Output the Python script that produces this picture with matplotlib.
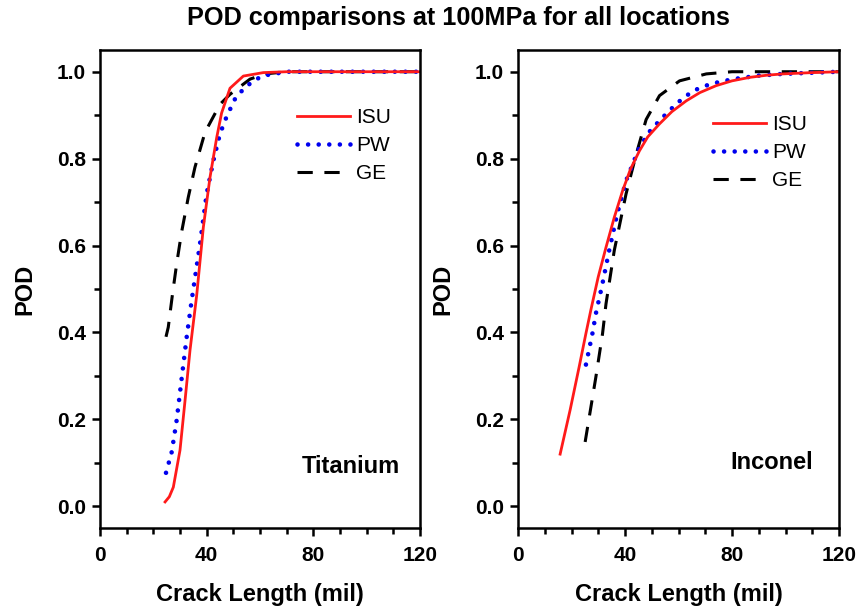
import matplotlib
matplotlib.use("Agg")
import matplotlib.pyplot as plt
from matplotlib.ticker import MultipleLocator

plt.rcParams["font.family"] = ["Liberation Sans", "DejaVu Sans"]

# Titanium curves (crack length in mil, POD)
ti_isu_x = [24.4, 26.0, 27.5, 30.0, 31.9, 33.75, 36.25, 38.75, 41.25, 43.75, 45.6, 48.75, 53.75, 61.25, 70, 90, 120]
ti_isu_y = [0.010, 0.022, 0.044, 0.129, 0.244, 0.359, 0.485, 0.642, 0.757, 0.848, 0.905, 0.962, 0.990, 0.998, 1.0, 1.0, 1.0]
ti_pw_x = [24.75, 26.9, 28.75, 30.6, 32.5, 34.4, 37.5, 40.0, 42.5, 45.0, 47.5, 50.6, 53.75, 57.5, 61.25, 70, 90, 120]
ti_pw_y = [0.077, 0.125, 0.198, 0.293, 0.389, 0.475, 0.604, 0.719, 0.795, 0.857, 0.897, 0.937, 0.960, 0.979, 0.991, 1.0, 1.0, 1.0]
ti_ge_x = [24.75, 25.6, 27.2, 28.75, 30.6, 33.1, 35.6, 39.4, 45.0, 48.75, 56.25, 61.9, 70, 90, 120]
ti_ge_y = [0.39, 0.412, 0.489, 0.558, 0.631, 0.711, 0.780, 0.861, 0.925, 0.948, 0.983, 0.995, 1.0, 1.0, 1.0]

# Inconel curves
in_isu_x = [15.75, 19.5, 22.9, 25.4, 27.25, 30.0, 32.9, 36.0, 39.1, 42.0, 45.4, 48.5, 52.9, 57.5, 62.9, 68.0, 74.1, 80.0, 86.6, 93.0, 99, 110, 120]
in_isu_y = [0.120, 0.222, 0.322, 0.398, 0.452, 0.528, 0.596, 0.665, 0.726, 0.775, 0.818, 0.850, 0.880, 0.908, 0.933, 0.952, 0.968, 0.979, 0.987, 0.992, 0.995, 0.998, 1.0]
in_pw_x = [25.4, 27.9, 29.1, 31.5, 34.1, 37.0, 40.4, 45.4, 49.5, 54.1, 59.5, 65.4, 72.0, 80.4, 90, 99, 120]
in_pw_y = [0.326, 0.40, 0.443, 0.51, 0.589, 0.67, 0.749, 0.826, 0.865, 0.895, 0.928, 0.956, 0.972, 0.983, 0.991, 0.995, 1.0]
in_ge_x = [25.1, 29.1, 31.6, 32.9, 36.0, 40.4, 44.1, 47.9, 52.9, 60.4, 70.4, 80, 100, 120]
in_ge_y = [0.148, 0.297, 0.397, 0.466, 0.589, 0.719, 0.808, 0.890, 0.945, 0.979, 0.995, 1.0, 1.0, 1.0]

x_ticks = [0, 40, 80, 120]
y_ticks = [0.0, 0.2, 0.4, 0.6, 0.8, 1.0]

fig = plt.figure(figsize=(8.6, 6.09), dpi=100)
ax1 = fig.add_axes([100 / 860, 81 / 609, 320 / 860, 478 / 609])
ax2 = fig.add_axes([518 / 860, 81 / 609, 321 / 860, 478 / 609])

# axes, material, (text x, text y), legend anchor, curves
panels = [
    (ax1, "Titanium", (0.9375, 0.128), (0.616, 0.878),
     (ti_isu_x, ti_isu_y), (ti_pw_x, ti_pw_y), (ti_ge_x, ti_ge_y)),
    (ax2, "Inconel", (0.919, 0.136), (0.607, 0.863),
     (in_isu_x, in_isu_y), (in_pw_x, in_pw_y), (in_ge_x, in_ge_y)),
]

for ax, name, txt_pos, leg_pos, isu, pw, ge in panels:
    ax.plot(ge[0], ge[1], color="black", lw=2.2, dashes=(5, 3.8), label="GE")
    ax.plot(pw[0], pw[1], color="#0000ee", lw=3.3, linestyle=(0, (0.01, 2.3)),
            dash_capstyle="round", label="PW")
    ax.plot(isu[0], isu[1], color="#ff1a1a", lw=2.0, label="ISU")

    ax.set_xlim(0, 120)
    ax.set_ylim(-0.05, 1.05)
    ax.set_xticks(x_ticks)
    ax.set_yticks(y_ticks)
    ax.set_yticklabels([f"{v:.1f}" for v in y_ticks])
    ax.xaxis.set_minor_locator(MultipleLocator(10))
    ax.yaxis.set_minor_locator(MultipleLocator(0.1))
    ax.tick_params(which="major", direction="out", length=6, width=1.8, labelsize=15)
    ax.tick_params(which="minor", direction="out", length=4, width=1.8)
    ax.tick_params(axis="x", which="major", pad=7)
    ax.tick_params(axis="y", which="major", pad=4)
    for lbl in ax.get_xticklabels() + ax.get_yticklabels():
        lbl.set_fontweight("bold")
    for sp in ax.spines.values():
        sp.set_linewidth(1.8)

    ax.set_xlabel("Crack Length (mil)", fontsize=17, fontweight="bold", labelpad=13)
    ax.set_ylabel("POD", fontsize=17, fontweight="bold", labelpad=15)
    ax.text(txt_pos[0], txt_pos[1], name, transform=ax.transAxes, ha="right",
            va="center", fontsize=17, fontweight="bold")

    h, l = ax.get_legend_handles_labels()
    ax.legend(h[::-1], l[::-1], loc="upper left", bbox_to_anchor=leg_pos,
              frameon=False, fontsize=15, handlelength=2.55, handletextpad=0.3,
              labelspacing=0.42, borderpad=0, borderaxespad=0)

fig.text(458 / 860, 1 - 18 / 609, "POD comparisons at 100MPa for all locations",
         ha="center", va="center", fontsize=18.2, fontweight="bold")

fig.savefig("out.png", dpi=100)
